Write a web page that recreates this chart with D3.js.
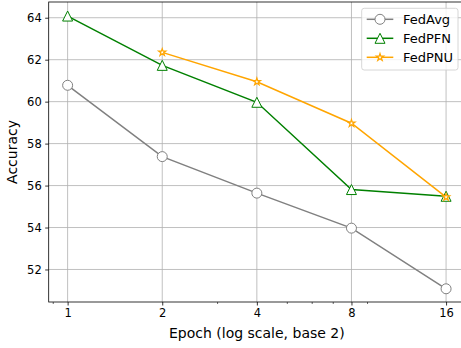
<!DOCTYPE html>
<html>
<head>
<meta charset="utf-8">
<script src="https://cdn.jsdelivr.net/npm/d3@7"></script>
<style>
  body { margin: 0; background: #fff; }
  svg { display: block; font-family: "DejaVu Sans", sans-serif; }
</style>
</head>
<body>
<svg id="chart" width="461" height="348"></svg>
<script>
const epochs = [1, 2, 4, 8, 16];
const fedAvg = [60.78, 57.38, 55.64, 53.97, 51.08];
const fedPFN = [64.08, 61.73, 59.97, 55.81, 55.49];
const fedPNU = [null, 62.35, 60.95, 58.97, 55.45];
const yTicks = [52, 54, 56, 58, 60, 62, 64];
const minorX = [0.9, 3, 5, 6, 7, 9];

const series = [
  {name: 'FedAvg', values: fedAvg, color: '#808080', marker: 'circle'},
  {name: 'FedPFN', values: fedPFN, color: '#008000', marker: 'triangle'},
  {name: 'FedPNU', values: fedPNU, color: '#ffa500', marker: 'star'}
];

const margin = {left: 48.7, top: 2, bottom: 302};
const x = d3.scaleLog().base(2)
  .domain([Math.pow(2, -0.2), Math.pow(2, 4.2)])
  .range([margin.left, 465]);
const y = d3.scaleLinear()
  .domain([50.45, 64.75])
  .range([margin.bottom, margin.top]);

const svg = d3.select('#chart');

// grid
svg.append('g').selectAll('line')
  .data(epochs).enter().append('line')
  .attr('x1', d => x(d)).attr('x2', d => x(d))
  .attr('y1', margin.top).attr('y2', margin.bottom)
  .attr('stroke', '#b0b0b0').attr('stroke-width', 0.8);
svg.append('g').selectAll('line')
  .data(yTicks).enter().append('line')
  .attr('x1', margin.left).attr('x2', 465)
  .attr('y1', d => y(d)).attr('y2', d => y(d))
  .attr('stroke', '#b0b0b0').attr('stroke-width', 0.8);

// axes
const xAxis = d3.axisBottom(x).tickValues(epochs).tickFormat(d3.format('d'))
  .tickSizeInner(3.5).tickSizeOuter(0).tickPadding(3.5);
const gx = svg.append('g')
  .attr('transform', 'translate(0,' + margin.bottom + ')')
  .call(xAxis);
gx.append('g').selectAll('line')
  .data(minorX).enter().append('line')
  .attr('x1', d => x(d)).attr('x2', d => x(d))
  .attr('y1', 0).attr('y2', 2)
  .attr('stroke', '#000').attr('stroke-width', 0.6);

const yAxis = d3.axisLeft(y).tickValues(yTicks)
  .tickSizeInner(3.5).tickSizeOuter(0).tickPadding(3.5);
const gy = svg.append('g')
  .attr('transform', 'translate(' + margin.left + ',0)')
  .call(yAxis);

[gx, gy].forEach(g => {
  g.select('.domain').remove();
  g.selectAll('text').style('font-size', '11.5px').attr('fill', '#000')
    .style('font-family', '"DejaVu Sans", sans-serif');
  g.selectAll('.tick line').attr('stroke-width', 0.8);
});

// frame
svg.append('rect')
  .attr('x', margin.left).attr('y', margin.top)
  .attr('width', 465 - margin.left).attr('height', margin.bottom - margin.top)
  .attr('fill', 'none').attr('stroke', '#000').attr('stroke-width', 0.8);

// lines
const line = d3.line()
  .defined(d => d.v !== null)
  .x(d => x(d.e)).y(d => y(d.v));

const star = d3.symbol().type(d3.symbolStar).size(16);
function drawMarker(g, type, color, px, py) {
  if (type === 'circle') {
    g.append('circle').attr('cx', px).attr('cy', py).attr('r', 5)
      .attr('fill', '#fff').attr('stroke', color).attr('stroke-width', 1);
  } else if (type === 'triangle') {
    const s = 5;
    g.append('path')
      .attr('d', 'M' + px + ',' + (py - s) + 'L' + (px - s) + ',' + (py + s) +
        'L' + (px + s) + ',' + (py + s) + 'Z')
      .attr('fill', '#fff').attr('stroke', color).attr('stroke-width', 1);
  } else {
    g.append('path').attr('d', star)
      .attr('transform', 'translate(' + px + ',' + py + ')')
      .attr('fill', '#fff').attr('stroke', color).attr('stroke-width', 1.2);
  }
}

series.forEach(s => {
  const pts = epochs.map((e, i) => ({e: e, v: s.values[i]}));
  const g = svg.append('g');
  g.append('path').datum(pts)
    .attr('d', line)
    .attr('fill', 'none').attr('stroke', s.color).attr('stroke-width', 1.5);
  pts.filter(p => p.v !== null).forEach(p => drawMarker(g, s.marker, s.color, x(p.e), y(p.v)));
});

// legend
const lg = svg.append('g').attr('transform', 'translate(361.7,8.3)');
lg.append('rect').attr('width', 96.3).attr('height', 61.7).attr('rx', 2.5)
  .attr('fill', '#fff').attr('fill-opacity', 0.8)
  .attr('stroke', '#cccccc').attr('stroke-width', 0.8);
series.forEach((s, i) => {
  const yy = 11 + 19 * i;
  lg.append('line').attr('x1', 5).attr('x2', 31.6).attr('y1', yy).attr('y2', yy)
    .attr('stroke', s.color).attr('stroke-width', 1.5);
  drawMarker(lg, s.marker, s.color, 18.3, yy);
  lg.append('text').attr('x', 41.3).attr('y', yy + 4.6)
    .style('font-size', '13px').text(s.name);
});

// labels
svg.append('text')
  .attr('x', (margin.left + 465) / 2).attr('y', 338)
  .attr('text-anchor', 'middle').style('font-size', '14px')
  .text('Epoch (log scale, base 2)');
svg.append('text')
  .attr('transform', 'translate(17,' + (margin.top + margin.bottom) / 2 + ') rotate(-90)')
  .attr('text-anchor', 'middle').style('font-size', '14px')
  .text('Accuracy');
</script>
</body>
</html>
